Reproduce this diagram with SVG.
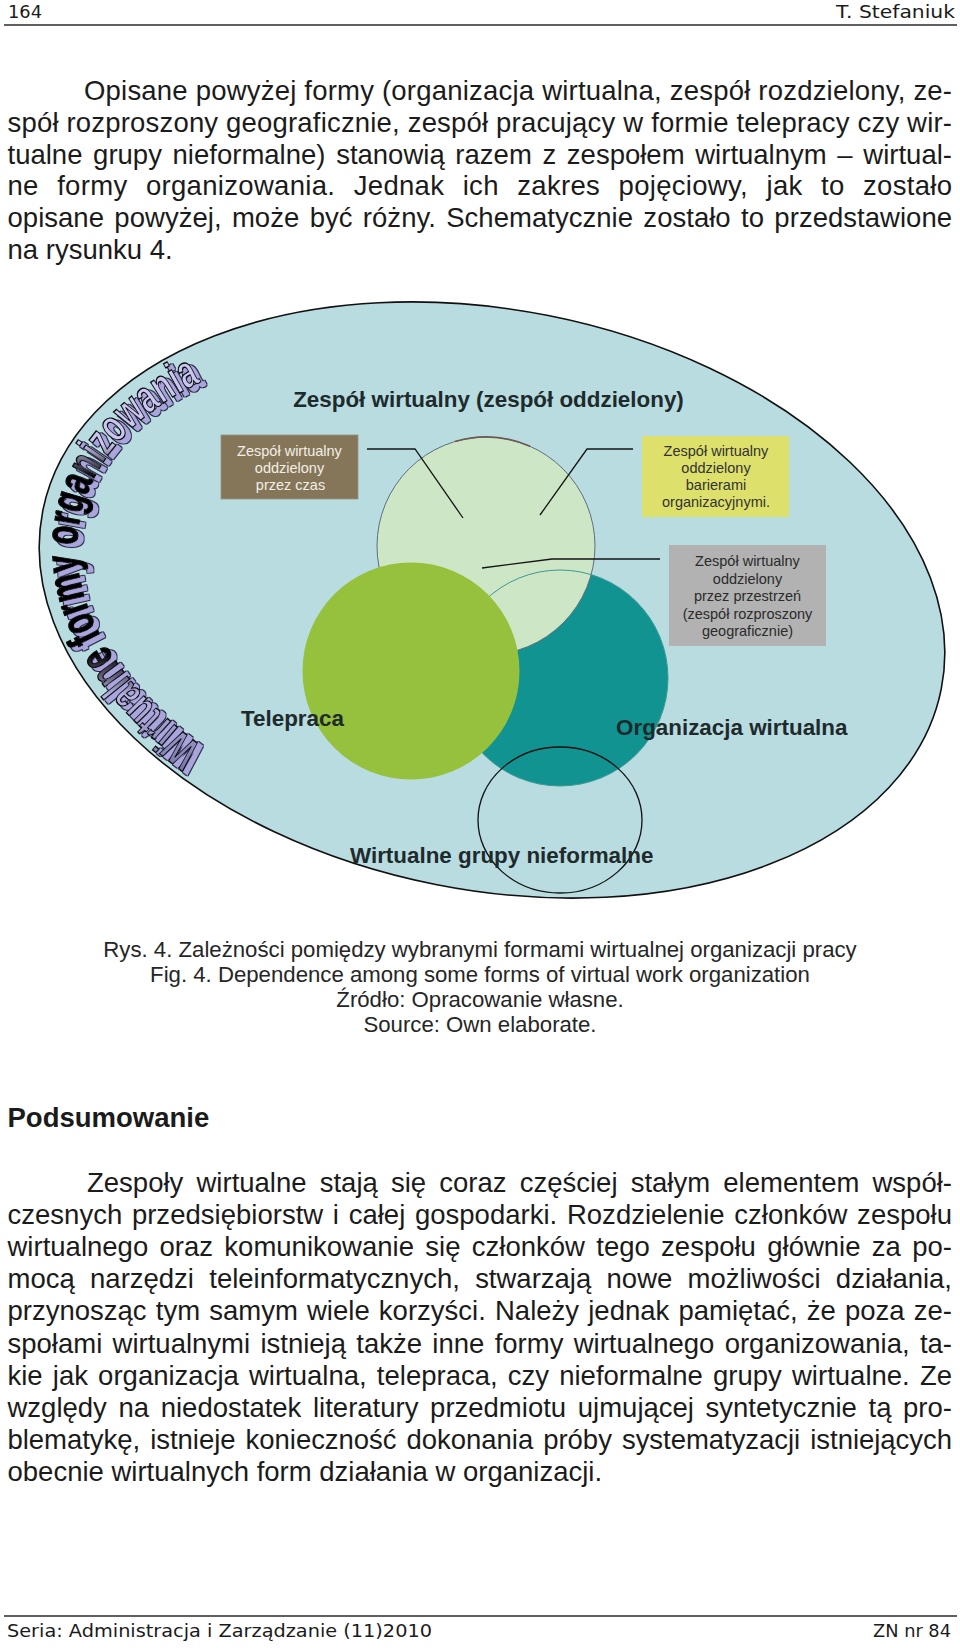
<svg xmlns="http://www.w3.org/2000/svg" width="960" height="1648" viewBox="0 0 960 1648">
<style>
.body{font-family:"Liberation Sans",Arial,sans-serif;font-size:27.5px;fill:#1b1b1b}
.bold{font-weight:bold}
.hdr{font-family:"DejaVu Sans",Verdana,sans-serif;font-size:17px;fill:#1b1b1b}
.cap{font-family:"Liberation Sans",Arial,sans-serif;font-size:22.2px;fill:#262626;text-anchor:middle}
.lbl{font-family:"Liberation Sans",Arial,sans-serif;font-size:22.4px;font-weight:bold;fill:#1e2a2c}
.box{font-family:"Liberation Sans",Arial,sans-serif;font-size:14.5px;text-anchor:middle}
.conn{fill:none;stroke:#151515;stroke-width:1.3}
.rule{stroke:#2a2a2a;stroke-width:1.6}
.wa{font-family:"Liberation Sans",Arial,sans-serif;font-size:46px;font-weight:bold}
</style>
<defs>
<path id="waPath" d="M210.1,752.1 A420,252 11.2 0 1 229.8,369.6" fill="none"/>
<linearGradient id="waFill" gradientUnits="userSpaceOnUse" x1="0" y1="360" x2="0" y2="780">
<stop offset="0" stop-color="#c9c6f0"/>
<stop offset="0.2" stop-color="#c9c6f0"/>
<stop offset="0.28" stop-color="#000"/>
<stop offset="0.70" stop-color="#000"/>
<stop offset="0.80" stop-color="#b9b6e6"/>
<stop offset="1" stop-color="#6f6ca0"/>
</linearGradient>
<filter id="waShadow" x="-20%" y="-20%" width="140%" height="140%">
<feMorphology in="SourceAlpha" operator="dilate" radius="0.7" result="dil"/>
<feOffset in="dil" dx="5" dy="3" result="offDil"/>
<feFlood flood-color="#2d2d4d" result="dark"/>
<feComposite in="dark" in2="offDil" operator="in" result="outline"/>
<feOffset in="SourceAlpha" dx="5" dy="3" result="offSrc"/>
<feFlood flood-color="#a9a6dd" result="lav"/>
<feComposite in="lav" in2="offSrc" operator="in" result="shadow"/>
<feMerge><feMergeNode in="outline"/><feMergeNode in="shadow"/><feMergeNode in="SourceGraphic"/></feMerge>
</filter>
</defs>
<rect width="960" height="1648" fill="#fff"/>

<g id="header">
<text class="hdr" x="8" y="17.5" textLength="34" lengthAdjust="spacingAndGlyphs">164</text>
<text class="hdr" x="836" y="17.5" textLength="119" lengthAdjust="spacingAndGlyphs">T. Stefaniuk</text>
<line class="rule" x1="4" y1="25" x2="957" y2="25"/>
</g>

<g id="paragraph-1">
<text class="body" x="84" y="100" textLength="868" lengthAdjust="spacing">Opisane powyżej formy (organizacja wirtualna, zespół rozdzielony, ze-</text>
<text class="body" x="7.5" y="131.8" textLength="944.5" lengthAdjust="spacing">spół rozproszony geograficznie, zespół pracujący w formie telepracy czy wir-</text>
<text class="body" x="7.5" y="163.6" textLength="944.5" lengthAdjust="spacing" word-spacing="3">tualne grupy nieformalne) stanowią razem z zespołem wirtualnym – wirtual-</text>
<text class="body" x="7.5" y="195.4" textLength="944.5" lengthAdjust="spacing" word-spacing="10.5">ne formy organizowania. Jednak ich zakres pojęciowy, jak to zostało</text>
<text class="body" x="7.5" y="227.2" textLength="944.5" lengthAdjust="spacing" word-spacing="2.7">opisane powyżej, może być różny. Schematycznie zostało to przedstawione</text>
<text class="body" x="7.5" y="259">na rysunku 4.</text>
</g>

<g id="frame">
<ellipse cx="492" cy="600" rx="458" ry="290" transform="rotate(11.2 492 600)" fill="#b8dce0" stroke="#111" stroke-width="1.6"/>
</g>

<g id="wordart" filter="url(#waShadow)">
<text class="wa" fill="url(#waFill)" stroke="#0a0a0a" stroke-width="1.4"><textPath href="#waPath" startOffset="10" textLength="462" lengthAdjust="spacingAndGlyphs">Wirtualne formy organizowania</textPath></text>
</g>

<g id="organizacja-wirtualna">
<circle cx="560" cy="678" r="108" fill="#119491"/>
</g>
<g id="zespol-wirtualny">
<circle cx="486" cy="546" r="109" fill="#cde6c5" stroke="#5d6e80" stroke-width="1"/>
<path d="M455,441.5 A109,109 0 0 1 530,446.3" fill="none" stroke="#6e5a52" stroke-width="1.8"/>
</g>
<g id="organizacja-wirtualna-outline">
<circle cx="560" cy="678" r="108" fill="none" stroke="#3f9894" stroke-width="1"/>
</g>
<g id="telepraca">
<circle cx="411" cy="671" r="108.5" fill="#95c13d"/>
</g>
<g id="grupy-nieformalne">
<ellipse cx="560" cy="820" rx="82" ry="73" fill="none" stroke="#111" stroke-width="1.3"/>
</g>

<g id="labels">
<text class="lbl" x="488.5" y="407" text-anchor="middle">Zespół wirtualny (zespół oddzielony)</text>
<text class="lbl" x="241" y="726">Telepraca</text>
<text class="lbl" x="616" y="735">Organizacja wirtualna</text>
<text class="lbl" x="350" y="863">Wirtualne grupy nieformalne</text>
</g>

<g id="box-czas">
<rect x="221" y="435" width="137" height="64" fill="#857659" stroke="#98917e" stroke-width="0.8"/>
<text class="box" fill="#f2efe6"><tspan x="289.5" y="456">Zespół wirtualny</tspan><tspan x="289.5" y="473">oddzielony</tspan><tspan x="290.5" y="490">przez czas</tspan></text>
</g>
<g id="box-bariery">
<rect x="642" y="436" width="147" height="81" fill="#dde06b"/>
<text class="box" fill="#333"><tspan x="716" y="456">Zespół wirtualny</tspan><tspan x="716" y="473">oddzielony</tspan><tspan x="716" y="490">barierami</tspan><tspan x="716" y="507">organizacyjnymi.</tspan></text>
</g>
<g id="box-przestrzen">
<rect x="669" y="545" width="157" height="101" fill="#b2b2b2"/>
<text class="box" fill="#2b2b2b"><tspan x="747.5" y="566">Zespół wirtualny</tspan><tspan x="747.5" y="583.5">oddzielony</tspan><tspan x="747.5" y="601">przez przestrzeń</tspan><tspan x="747.5" y="618.5">(zespół rozproszony</tspan><tspan x="747.5" y="636">geograficznie)</tspan></text>
</g>

<g id="connectors">
<polyline class="conn" points="367,449 415,449 463,518"/>
<polyline class="conn" points="633,449 587,449 540,515"/>
<polyline class="conn" points="660,559 552,559 482,568"/>
</g>

<g id="caption">
<text class="cap" x="480" y="957">Rys. 4. Zależności pomiędzy wybranymi formami wirtualnej organizacji pracy</text>
<text class="cap" x="480" y="982">Fig. 4. Dependence among some forms of virtual work organization</text>
<text class="cap" x="480" y="1007">Źródło: Opracowanie własne.</text>
<text class="cap" x="480" y="1032">Source: Own elaborate.</text>
</g>

<g id="paragraph-2">
<text class="body bold" x="7.5" y="1127">Podsumowanie</text>
<text class="body" x="87" y="1192" textLength="865" lengthAdjust="spacing" word-spacing="5.5">Zespoły wirtualne stają się coraz częściej stałym elementem współ-</text>
<text class="body" x="7.5" y="1224.1" textLength="944.5" lengthAdjust="spacing" word-spacing="2">czesnych przedsiębiorstw i całej gospodarki. Rozdzielenie członków zespołu</text>
<text class="body" x="7.5" y="1256.2" textLength="944.5" lengthAdjust="spacing" word-spacing="3.7">wirtualnego oraz komunikowanie się członków tego zespołu głównie za po-</text>
<text class="body" x="7.5" y="1288.3" textLength="944.5" lengthAdjust="spacing" word-spacing="7.7">mocą narzędzi teleinformatycznych, stwarzają nowe możliwości działania,</text>
<text class="body" x="7.5" y="1320.4" textLength="944.5" lengthAdjust="spacing" word-spacing="1.5">przynosząc tym samym wiele korzyści. Należy jednak pamiętać, że poza ze-</text>
<text class="body" x="7.5" y="1352.5" textLength="944.5" lengthAdjust="spacing" word-spacing="2.7">społami wirtualnymi istnieją także inne formy wirtualnego organizowania, ta-</text>
<text class="body" x="7.5" y="1384.6" textLength="944.5" lengthAdjust="spacing" word-spacing="2.5">kie jak organizacja wirtualna, telepraca, czy nieformalne grupy wirtualne. Ze</text>
<text class="body" x="7.5" y="1416.7" textLength="944.5" lengthAdjust="spacing" word-spacing="4">względy na niedostatek literatury przedmiotu ujmującej syntetycznie tą pro-</text>
<text class="body" x="7.5" y="1448.8" textLength="944.5" lengthAdjust="spacing" word-spacing="2.5">blematykę, istnieje konieczność dokonania próby systematyzacji istniejących</text>
<text class="body" x="7.5" y="1480.9">obecnie wirtualnych form działania w organizacji.</text>
</g>

<g id="footer">
<line class="rule" x1="4" y1="1616" x2="957" y2="1616"/>
<text class="hdr" x="7" y="1637" font-size="18" textLength="425" lengthAdjust="spacingAndGlyphs">Seria: Administracja i Zarządzanie (11)2010</text>
<text class="hdr" x="873" y="1637" font-size="18" textLength="78" lengthAdjust="spacingAndGlyphs">ZN nr 84</text>
</g>
</svg>
